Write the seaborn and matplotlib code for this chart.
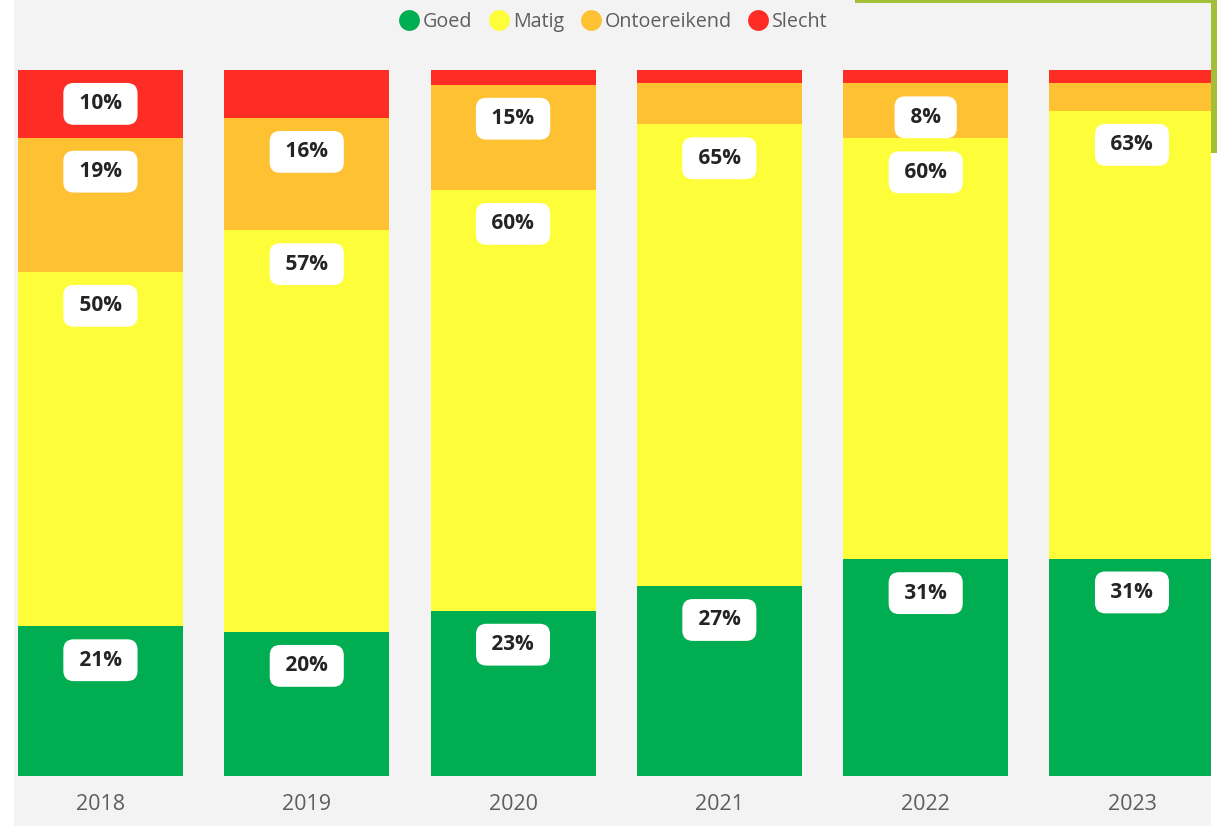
import matplotlib
matplotlib.use("Agg")
import matplotlib.pyplot as plt
from matplotlib.lines import Line2D
from matplotlib.patches import Rectangle
import numpy as np
import pandas as pd
import seaborn as sns

# Share of each rating per year (percent)
years = ["2018", "2019", "2020", "2021", "2022", "2023"]
goed = [21.2, 20.4, 23.4, 26.9, 30.7, 30.8]
matig = [50.2, 56.9, 59.6, 65.4, 59.6, 63.4]
ontoereikend = [19.0, 15.9, 14.9, 5.8, 7.8, 3.9]
slecht = [9.6, 6.8, 2.1, 1.9, 1.9, 1.9]

series_names = ["Goed", "Matig", "Ontoereikend", "Slecht"]
series_values = [goed, matig, ontoereikend, slecht]
series_colors = ["#00AD50", "#FDFD3A", "#FDC132", "#FD2C24"]

sns.set_theme(style="white")
plt.rcParams["font.family"] = ["Open Sans", "DejaVu Sans"]

W, H = 1217, 826
fig = plt.figure(figsize=(W / 100, H / 100), dpi=100)
fig.patch.set_facecolor("white")

# light grey canvas behind the chart
fig.add_artist(Rectangle((14 / W, 0), (1211 - 14) / W, 1, transform=fig.transFigure,
                         facecolor="#F3F3F3", edgecolor="none", zorder=0))

ax = fig.add_axes([14 / W, (H - 776) / H, (1211 - 14) / W, (776 - 70) / H])
ax.set_facecolor("none")

df = pd.DataFrame({"year": years})
cum = np.zeros(len(years))
tops = []
for name, vals in zip(series_names, series_values):
    cum = cum + np.array(vals)
    tops.append(cum.copy())
    df[name] = cum.copy()

# draw cumulative totals from the top layer down so each layer shows its share
for name, color in reversed(list(zip(series_names, series_colors))):
    sns.barplot(data=df, x="year", y=name, order=years, color=color,
                width=0.8, saturation=1, ax=ax, linewidth=0)

# value labels near the top of each segment
for vals, top in zip(series_values, tops):
    for i, (v, t) in enumerate(zip(vals, top)):
        if v < 7.5:
            continue
        ax.text(i, t - 4.8, f" {v:.0f}% ", ha="center", va="center",
                fontsize=15, fontweight="bold", color="#252423",
                bbox=dict(boxstyle="round,pad=0.5,rounding_size=0.5",
                          facecolor="white", edgecolor="none"))

ax.set_xlim(-0.419, 5.383)
ax.set_ylim(0, 100)
ax.set_xlabel("")
ax.set_ylabel("")
ax.set_yticks([])
ax.tick_params(axis="x", length=0, pad=13, labelsize=15.5, labelcolor="#605E5C")
for s in ax.spines.values():
    s.set_visible(False)

handles = [Line2D([], [], marker="o", linestyle="none", markersize=15,
                  markerfacecolor=c, markeredgecolor="none") for c in series_colors]
fig.legend(handles, series_names, loc="center", bbox_to_anchor=(613 / W, 1 - 22 / H),
           ncol=4, frameon=False, fontsize=14.2, labelcolor="#605E5C",
           handletextpad=0.15, columnspacing=0.8, handlelength=1.1)

# olive accent border at the top right
fig.add_artist(Rectangle((855 / W, 1 - 3 / H), (W - 855) / W, 3 / H, transform=fig.transFigure,
                         facecolor="#A3BE37", edgecolor="none", zorder=5))
fig.add_artist(Rectangle((1211 / W, 1 - 153 / H), 6 / W, 153 / H, transform=fig.transFigure,
                         facecolor="#A3BE37", edgecolor="none", zorder=5))

fig.savefig("out.png", dpi=100)
